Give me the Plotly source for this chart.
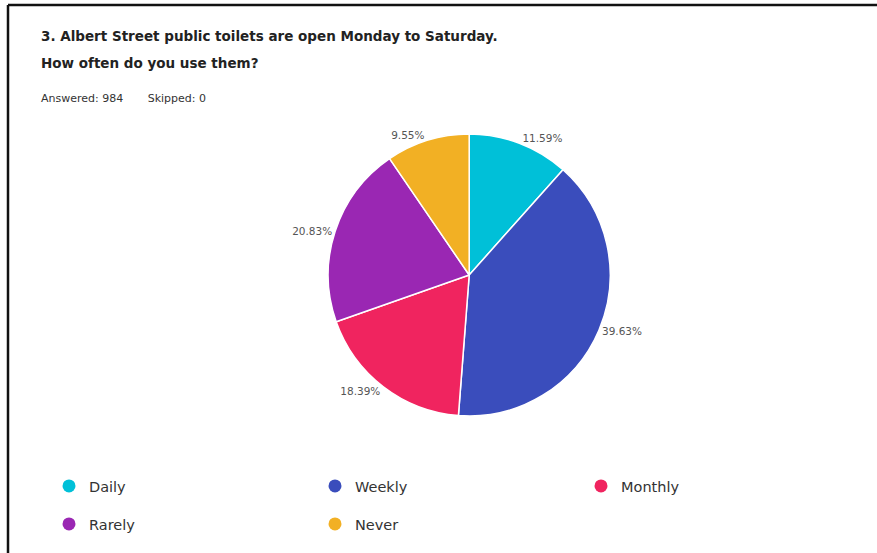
import plotly.graph_objects as go

categories = ["Daily", "Weekly", "Monthly", "Rarely", "Never"]
counts = [114, 390, 181, 205, 94]
colors = ["#00C0D8", "#3A4DBC", "#F0245F", "#9A27B3", "#F2B024"]
title_line1 = "3. Albert Street public toilets are open Monday to Saturday."
title_line2 = "How often do you use them?"
answered = 984
skipped = 0

W, H = 877, 553
fig = go.Figure()

cy = 1 - 275 / H
half = 141 / H
fig.add_trace(go.Pie(
    labels=categories, values=counts, sort=False, direction="clockwise",
    rotation=0, marker=dict(colors=colors, line=dict(color="white", width=1.5)),
    textposition="outside", texttemplate="%{percent:.2%}",
    textfont=dict(family="DejaVu Sans", size=10.5, color="#555555"),
    showlegend=False, hoverinfo="label+percent",
    domain=dict(x=[0.535 - 141 / W, 0.535 + 141 / W], y=[cy - half, cy + half]),
))

for i, (c, col) in enumerate(zip(categories, colors)):
    fig.add_trace(go.Scatter(
        x=[None], y=[None], mode="markers", name=c,
        marker=dict(symbol="circle", size=13, color=col),
        legend="legend" if i < 3 else "legend2",
    ))

leg_common = dict(orientation="h", entrywidth=221, entrywidthmode="pixels",
                  font=dict(family="DejaVu Sans", size=14.5, color="#333333"),
                  bgcolor="rgba(0,0,0,0)", xanchor="left", yanchor="middle")
fig.update_layout(
    width=W, height=H,
    margin=dict(l=0, r=0, t=0, b=0),
    paper_bgcolor="white", plot_bgcolor="white",
    xaxis=dict(visible=False), yaxis=dict(visible=False),
    legend=dict(x=49 / W, y=1 - 486 / H, **leg_common),
    legend2=dict(x=49 / W, y=1 - 524 / H, **leg_common),
    annotations=[
        dict(text="<b>" + title_line1 + "</b>", x=39 / W, y=1 - 36 / H, xref="paper", yref="paper",
             xanchor="left", yanchor="middle", showarrow=False,
             font=dict(family="DejaVu Sans", size=13.5, color="#222222")),
        dict(text="<b>" + title_line2 + "</b>", x=39 / W, y=1 - 63 / H, xref="paper", yref="paper",
             xanchor="left", yanchor="middle", showarrow=False,
             font=dict(family="DejaVu Sans", size=13.5, color="#222222")),
        dict(text=f"Answered: {answered}&nbsp;&nbsp;&nbsp;&nbsp;&nbsp;&nbsp;&nbsp;Skipped: {skipped}", x=39 / W, y=1 - 99 / H,
             xref="paper", yref="paper", xanchor="left", yanchor="middle", showarrow=False,
             font=dict(family="DejaVu Sans", size=11, color="#333333")),
    ],
    shapes=[
        dict(type="line", xref="paper", yref="paper", x0=8 / W, x1=1, y0=1 - 5 / H, y1=1 - 5 / H,
             line=dict(color="#111111", width=2.5)),
        dict(type="line", xref="paper", yref="paper", x0=8 / W, x1=8 / W, y0=0, y1=1 - 5 / H,
             line=dict(color="#111111", width=2.5)),
    ],
)

fig.write_html("out.html", config={"displayModeBar": False},
               post_script="document.body.style.margin='0';document.body.style.overflow='hidden';")
